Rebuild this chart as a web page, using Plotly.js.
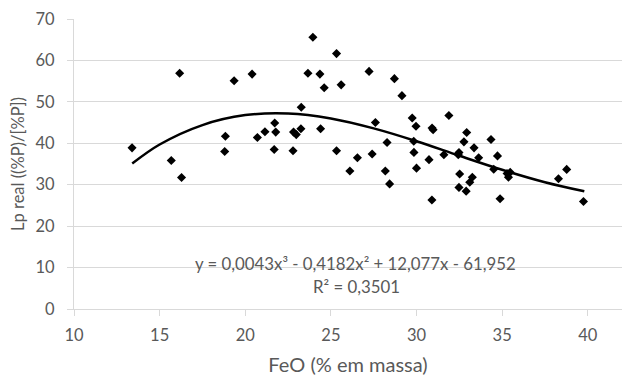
<!DOCTYPE html>
<html>
<head>
<meta charset="utf-8">
<script src="https://cdn.plot.ly/plotly-3.0.1.min.js"></script>
<style>html,body{margin:0;padding:0;background:#fff;}#chart{width:622px;height:376px;}</style>
</head>
<body>
<div id="chart"></div>
<script>
// FeO (% em massa) values of the observed points
const feo = [13.39,15.68,16.17,16.28,18.84,18.80,19.35,20.40,20.71,21.15,21.72,21.78,21.69,22.79,22.82,22.98,23.25,23.27,23.66,23.95,24.36,24.61,24.40,25.33,25.60,25.33,27.23,28.71,29.15,27.60,29.75,29.97,30.91,30.97,31.89,32.93,32.77,34.35,33.36,33.63,32.48,32.44,31.60,30.73,29.85,29.84,28.28,26.55,27.41,26.11,28.18,28.43,30.00,34.73,34.51,32.52,33.26,33.11,32.48,32.90,35.29,35.47,35.37,38.29,38.77,30.90,34.88,39.75];
// Lp real ((%P)/[%P]) values of the observed points
const lp = [38.9,35.85,56.9,31.75,41.7,38.0,55.1,56.7,41.4,42.8,44.9,42.7,38.5,38.2,42.7,42.1,43.5,48.7,56.9,65.6,56.7,53.4,43.5,61.65,54.1,38.2,57.35,55.6,51.5,45.0,46.1,44.1,43.7,43.25,46.7,42.6,40.35,40.9,38.9,36.5,37.75,37.25,37.25,36.05,37.8,40.5,40.2,36.5,37.4,33.3,33.3,30.2,34.0,36.95,33.75,32.6,31.8,30.6,29.35,28.45,32.7,33.0,31.8,31.45,33.7,26.3,26.6,25.95];
// Polynomial trend line
const trendX = [13.4,15,17.5,20,22.5,25,27.5,30,32.5,35,37.5,39.8];
const trendY = [35.1,39.7,44.4,46.8,47.2,46.0,43.6,40.5,37.0,33.6,30.6,28.4];
// Axis ticks
const xTicks = [10,15,20,25,30,35,40];
const yTicks = [0,10,20,30,40,50,60,70];
const equationText = "y = 0,0043x³ - 0,4182x² + 12,077x - 61,952";
const r2Text = "R² = 0,3501";

const fontFam = "Lato, 'Open Sans', sans-serif";
const gray = "#595959";

const traces = [
  {x: feo, y: lp, type: 'scatter', mode: 'markers',
   marker: {symbol: 'diamond', size: 7, color: '#000'}, hoverinfo: 'x+y'},
  {x: trendX, y: trendY, type: 'scatter', mode: 'lines',
   line: {color: '#000', width: 2.5, shape: 'spline'}, hoverinfo: 'skip'}
];

const layout = {
  width: 622, height: 376,
  margin: {l: 74, r: 0, t: 19, b: 67},
  paper_bgcolor: '#fff', plot_bgcolor: '#fff',
  showlegend: false,
  font: {family: fontFam, color: gray, size: 16},
  xaxis: {
    range: [10, 42], tickvals: xTicks, ticktext: xTicks.map(String),
    showgrid: false, zeroline: false,
    showline: true, linecolor: '#d9d9d9', linewidth: 1,
    ticks: 'outside', ticklen: 6, tickcolor: '#d9d9d9',
    ticklabelstandoff: 5,
    tickfont: {family: fontFam, size: 16.5, color: gray},
    title: {text: 'FeO (% em massa)', font: {family: fontFam, size: 20, color: gray}, standoff: 14}
  },
  yaxis: {
    range: [0, 70], tickvals: yTicks, ticktext: yTicks.map(String),
    showgrid: true, gridcolor: '#d9d9d9', gridwidth: 1, zeroline: false,
    showline: true, linecolor: '#d9d9d9', linewidth: 1,
    ticks: 'outside', ticklen: 6, tickcolor: '#d9d9d9',
    ticklabelstandoff: 9,
    tickfont: {family: fontFam, size: 16.5, color: gray},
    title: {text: 'Lp real ((%P)/[%P])', font: {family: fontFam, size: 16.5, color: gray}, standoff: 6}
  },
  annotations: [
    {xref: 'paper', yref: 'paper', x: 0.514, y: 0.157, text: equationText, showarrow: false,
     xanchor: 'center', yanchor: 'middle', font: {family: fontFam, size: 16.8, color: gray}},
    {xref: 'paper', yref: 'paper', x: 0.516, y: 0.078, text: r2Text, showarrow: false,
     xanchor: 'center', yanchor: 'middle', font: {family: fontFam, size: 16.8, color: gray}}
  ]
};

Plotly.newPlot('chart', traces, layout, {displayModeBar: false, staticPlot: true});
</script>
</body>
</html>
